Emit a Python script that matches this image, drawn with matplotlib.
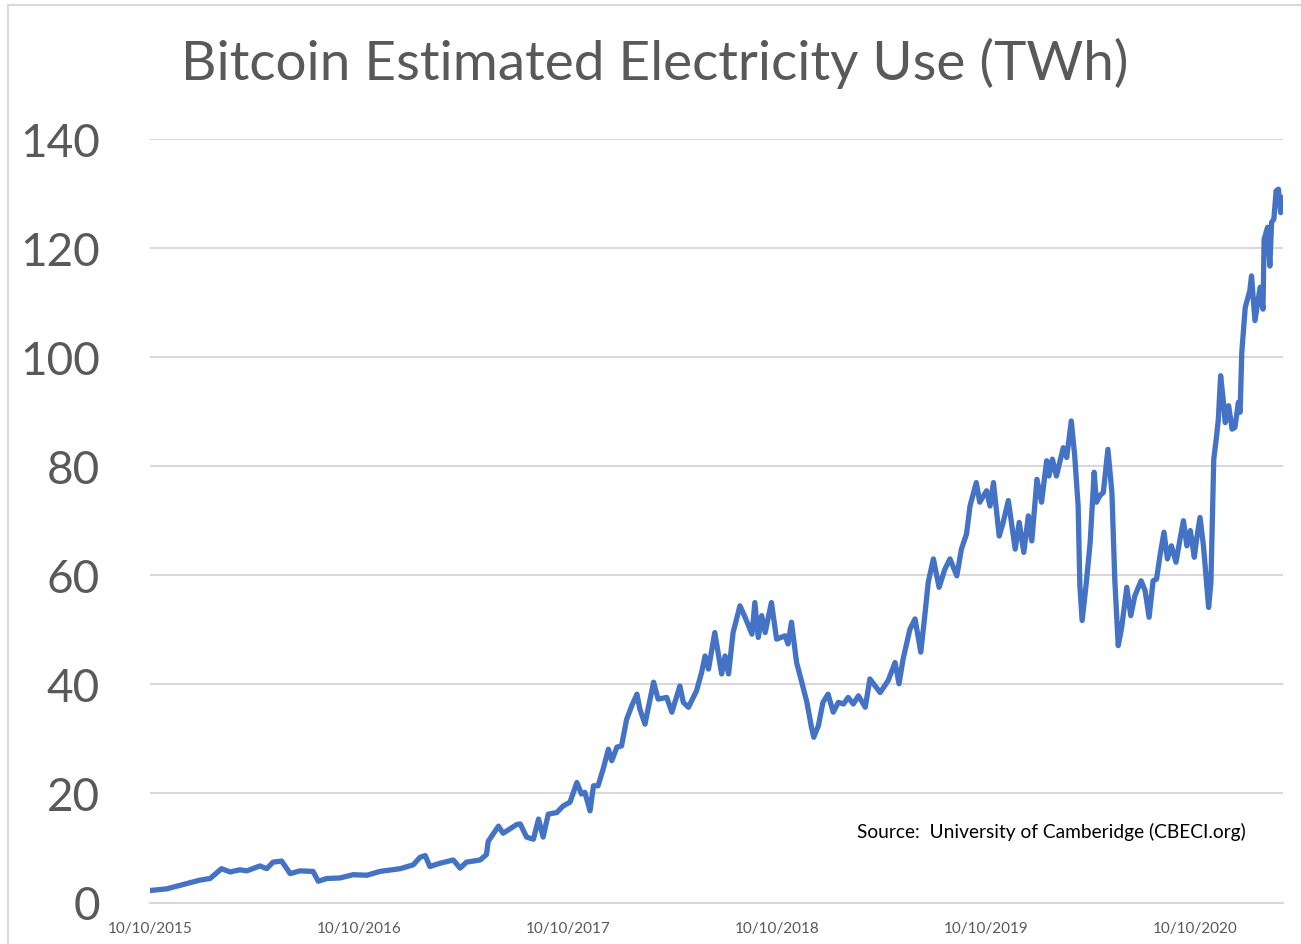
import numpy as np
import pandas as pd
import matplotlib
matplotlib.use("Agg")
import matplotlib.pyplot as plt
import matplotlib.dates as mdates
from matplotlib.patches import Rectangle

# 일수 (10/10/2015 기준) 와 추정 전력 사용량 (TWh), 그림에서 읽은 값
start_date = "2015-10-10"
days = [0, 29, 58, 87, 105, 125, 140, 157, 169, 192, 204, 215, 230, 245, 262, 285,
        294, 309, 332, 355, 379, 402, 437, 460, 472, 481, 489, 507, 530, 542, 553,
        577, 588, 591, 609, 617, 641, 647, 658, 670, 679, 687, 696, 711, 722, 734,
        746, 754, 760, 769, 775, 783, 792, 801, 807, 816, 824, 833, 842, 851, 856,
        865, 874, 880, 888, 903, 912, 926, 932, 941, 955, 964, 970, 976, 987, 999,
        1005, 1011, 1019, 1031, 1040, 1052, 1057, 1063, 1069, 1075, 1086, 1095,
        1110, 1115, 1121, 1130, 1139, 1148, 1156, 1160, 1168, 1176, 1185, 1194,
        1203, 1212, 1220, 1229, 1238, 1250, 1258, 1276, 1290, 1302, 1309, 1316,
        1328, 1337, 1347, 1354, 1360, 1369, 1379, 1389, 1398, 1410, 1418, 1427,
        1433, 1444, 1450, 1462, 1468, 1474, 1484, 1491, 1500, 1512, 1519, 1527,
        1535, 1541, 1550, 1558, 1567, 1571, 1577, 1584, 1596, 1602, 1610, 1616,
        1622, 1625, 1629, 1636, 1643, 1650, 1654, 1660, 1666, 1674, 1681, 1686,
        1692, 1698, 1707, 1714, 1721, 1732, 1739, 1746, 1753, 1759, 1765, 1772,
        1778, 1785, 1793, 1800, 1806, 1812, 1818, 1825, 1829, 1835, 1841, 1850,
        1854, 1857, 1859, 1864, 1867, 1871, 1876, 1879, 1885, 1891, 1896, 1902,
        1905, 1908, 1914, 1922, 1925, 1931, 1940, 1945, 1947, 1953, 1957, 1960,
        1964, 1968, 1972, 1976, 1980]
twh = [2.2, 2.5, 3.3, 4.1, 4.4, 6.2, 5.6, 6.0, 5.8, 6.7, 6.2, 7.4, 7.6, 5.3, 5.8, 5.7,
       3.9, 4.4, 4.5, 5.1, 5.0, 5.7, 6.2, 6.9, 8.3, 8.6, 6.6, 7.2, 7.8, 6.3, 7.4,
       7.8, 8.8, 11.2, 14.0, 12.7, 14.3, 14.4, 12.0, 11.6, 15.3, 12.0, 16.2, 16.5,
       17.7, 18.4, 22.0, 19.9, 20.2, 16.8, 21.4, 21.4, 24.5, 28.1, 26.0, 28.5, 28.7,
       33.6, 36.1, 38.2, 35.5, 32.7, 37.3, 40.4, 37.3, 37.6, 34.9, 39.7, 36.7, 35.8,
       38.8, 42.2, 45.2, 42.8, 49.5, 41.9, 45.2, 41.9, 49.5, 54.4, 52.3, 49.2, 55.0,
       48.6, 52.6, 49.5, 55.0, 48.3, 48.9, 47.4, 51.4, 44.0, 40.4, 36.7, 32.1, 30.3,
       32.4, 36.7, 38.2, 34.9, 36.7, 36.4, 37.6, 36.4, 37.9, 35.8, 41.0, 38.5, 40.7,
       44.0, 40.1, 44.6, 50.1, 52.0, 45.9, 52.6, 58.7, 63.0, 57.8, 61.1, 63.0, 59.9,
       64.8, 67.6, 72.7, 77.0, 73.4, 75.5, 72.7, 77.0, 67.2, 69.7, 73.7, 64.8, 69.7,
       64.2, 70.9, 66.3, 77.6, 73.4, 81.0, 78.2, 81.3, 78.2, 83.4, 81.6, 88.3, 81.9,
       72.7, 58.1, 51.7, 58.4, 66.0, 78.9, 73.4, 74.6, 75.2, 83.1, 75.2, 59.3, 47.1,
       50.4, 57.8, 52.6, 56.2, 59.0, 57.2, 52.3, 59.0, 59.3, 63.6, 67.9, 63.0, 65.4,
       62.4, 66.6, 70.0, 65.4, 68.2, 63.3, 66.6, 70.6, 65.4, 54.1, 58.7, 72.7, 81.3,
       85.6, 88.6, 96.6, 91.7, 88.0, 91.1, 86.8, 87.1, 91.7, 89.9, 100.9, 109.1,
       112.2, 114.9, 106.7, 112.8, 108.8, 121.6, 123.8, 116.7, 124.7, 125.3, 130.5,
       130.8, 126.5, 129.3]
tick_dates = ["2015-10-10", "2016-10-10", "2017-10-10", "2018-10-10",
              "2019-10-10", "2020-10-10"]
y_ticks = [0, 20, 40, 60, 80, 100, 120, 140]

title = "Bitcoin Estimated Electricity Use (TWh)"
source = "Source:  University of Camberidge (CBECI.org)"

dates = pd.Timestamp(start_date) + pd.to_timedelta(days, unit="D")

plt.rcParams['font.family'] = ['Lato', 'DejaVu Sans']
grey_text = '#595959'
grid_col = '#D9D9D9'

fig = plt.figure(figsize=(13.01, 9.45), dpi=100)
ax = fig.add_axes([150 / 1301, 1 - 903.5 / 945, (1283 - 150) / 1301, (903.5 - 140) / 945])

ax.plot(dates, twh, color='#4472C4', linewidth=3.8, solid_joinstyle='round',
        solid_capstyle='round')

ax.set_ylim(0, 140)
ax.set_yticks(y_ticks)
ax.set_xlim(pd.Timestamp(start_date), dates[-1])
ax.set_xticks(pd.to_datetime(tick_dates))
ax.xaxis.set_major_formatter(mdates.DateFormatter('%m/%d/%Y'))

ax.grid(axis='y', color=grid_col, linewidth=1.5)
ax.set_axisbelow(True)
for side in ['top', 'right', 'left']:
    ax.spines[side].set_visible(False)
ax.spines['bottom'].set_color(grid_col)
ax.spines['bottom'].set_linewidth(1.5)

ax.tick_params(axis='y', length=0, pad=36, labelsize=33, labelcolor=grey_text)
ax.tick_params(axis='x', length=0, pad=13, labelsize=11, labelcolor=grey_text)

fig.text(655 / 1301, 1 - 80 / 945, title, ha='center', va='baseline',
         fontsize=39.5, color=grey_text)
fig.text(1246 / 1301, 1 - 832 / 945, source, ha='right', va='center',
         fontsize=13.8, color='black')

# 차트 테두리
fig.patches.append(Rectangle((8 / 1301, -0.01), 1.02, 1 - 6 / 945 + 0.01,
                             transform=fig.transFigure, fill=False,
                             edgecolor=grid_col, linewidth=1.5))

fig.savefig('out.png', dpi=100)
